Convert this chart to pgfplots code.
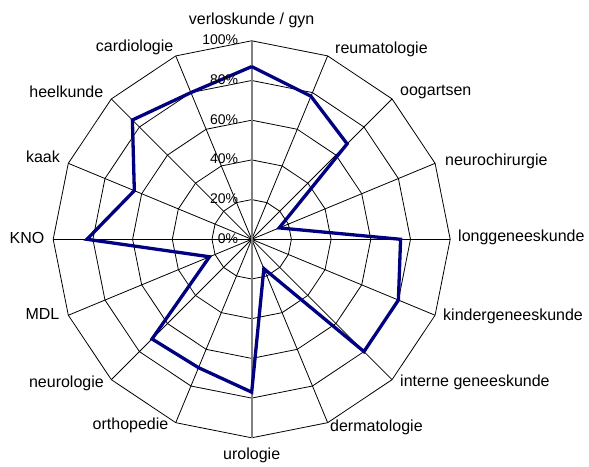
\documentclass[border=0pt]{standalone}
\usepackage{fontspec}
\setmainfont{Liberation Sans}
\usepackage{pgfplots}
\pgfplotsset{compat=1.18}
\definecolor{navy}{RGB}{0,0,128}
\definecolor{axgray}{RGB}{128,128,128}
\begin{document}
\begin{tikzpicture}
\begin{axis}[
  at={(0pt,0pt)}, anchor=north west,
  x=1.985pt, y=1.985pt,
  xmin=-126.8, xmax=169.9, ymin=-114.2, ymax=120.55,
  hide axis, clip=false,
]
% grid rings
\pgfplotsinvokeforeach{20,40,60,80,100}{
 \addplot[black, line width=0.8pt, data cs=polar, line join=miter] coordinates {(90,#1) (67.5,#1) (45,#1) (22.5,#1) (0,#1) (-22.5,#1) (-45,#1) (-67.5,#1) (-90,#1) (-112.5,#1) (-135,#1) (-157.5,#1) (180,#1) (157.5,#1) (135,#1) (112.5,#1) (90,#1)};
}
% spokes
\pgfplotsinvokeforeach{67.5,45,22.5,0,-22.5,-45,-67.5,-112.5,-135,-157.5,180,157.5,135,112.5}{
 \addplot[black, line width=0.8pt, data cs=polar] coordinates {(#1,0) (#1,100)};
}
\addplot[axgray, line width=1.6pt, data cs=polar] coordinates {(90,0) (90,100)};
\addplot[axgray, line width=1.6pt, data cs=polar] coordinates {(-90,0) (-90,100)};
% data
\addplot[navy, line width=3.3pt, data cs=polar, line join=miter] coordinates {
(90,87) (67.5,78) (45,68) (22.5,15) (0,75) (-22.5,80) (-45,80) (-67.5,16)
(-90,77) (-112.5,70) (-135,71) (-157.5,23) (180,83) (157.5,64) (135,85) (112.5,80) (90,87)};
\end{axis}
% tick labels
\begin{scope}[every node/.style={inner sep=0pt, font=\fontsize{14}{16}\selectfont}]
\node[anchor=mid east] at (238.3pt,-240.7pt) {0\%};
\node[anchor=mid east] at (238.3pt,-201.0pt) {20\%};
\node[anchor=mid east] at (238.3pt,-161.3pt) {40\%};
\node[anchor=mid east] at (238.3pt,-121.6pt) {60\%};
\node[anchor=mid east] at (238.3pt,-81.9pt) {80\%};
\node[anchor=mid east] at (238.3pt,-42.2pt) {100\%};
\end{scope}
% category labels
\begin{scope}[every node/.style={inner sep=0pt, font=\fontsize{16}{18}\selectfont}]
\node[anchor=mid] at (251.7pt,-22pt) {verloskunde / gyn};
\node[anchor=mid west] at (335pt,-51pt) {reumatologie};
\node[anchor=mid west] at (400pt,-93pt) {oogartsen};
\node[anchor=mid west] at (445pt,-163pt) {neurochirurgie};
\node[anchor=mid west] at (458pt,-239.3pt) {longgeneeskunde};
\node[anchor=mid west] at (443pt,-318pt) {kindergeneeskunde};
\node[anchor=mid west] at (400pt,-384pt) {interne geneeskunde};
\node[anchor=mid west] at (330pt,-429pt) {dermatologie};
\node[anchor=mid] at (251.7pt,-457pt) {urologie};
\node[anchor=mid east] at (168.5pt,-427pt) {orthopedie};
\node[anchor=mid east] at (104pt,-385pt) {neurologie};
\node[anchor=mid east] at (59.5pt,-316.5pt) {MDL};
\node[anchor=mid east] at (44.5pt,-240.5pt) {KNO};
\node[anchor=mid east] at (60pt,-159.5pt) {kaak};
\node[anchor=mid east] at (103.5pt,-94.5pt) {heelkunde};
\node[anchor=mid east] at (173.5pt,-49pt) {cardiologie};
\end{scope}
\pgfresetboundingbox
\path (0pt,0pt) rectangle (589pt,-466pt);
\end{tikzpicture}
\end{document}
